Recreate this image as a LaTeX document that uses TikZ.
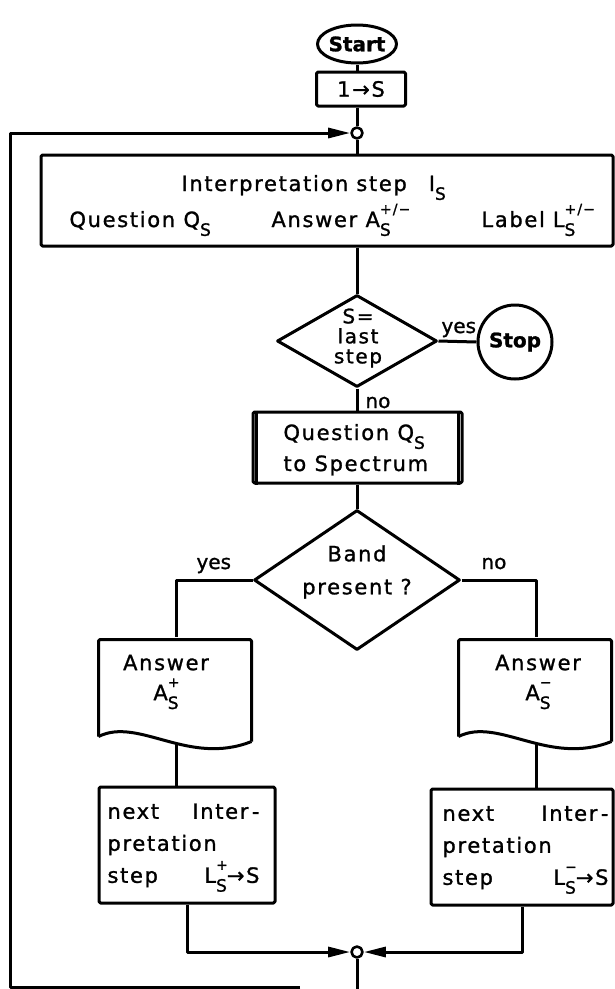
\documentclass[tikz,border=0pt]{standalone}
\usepackage{fontspec}
\setmainfont{DejaVu Sans}[LetterSpace=8,FakeBold=1.2]
\newfontfamily\plainf{DejaVu Sans}[FakeBold=1.2]
\usetikzlibrary{shapes.geometric,arrows.meta,calc}
\newcommand\Ssub{\raisebox{-0.42em}{\fontsize{17}{17}\selectfont S}}
\newcommand\SsubSup[1]{\makebox[0pt][l]{\raisebox{0.62em}{\fontsize{14}{14}\selectfont #1}}\raisebox{-0.42em}{\fontsize{17}{17}\selectfont S}}
\begin{document}
\begin{tikzpicture}[x=1pt,y=-1pt,line width=3pt,line join=round,
  font=\fontsize{21}{25}\selectfont,
  box/.style={draw,rectangle,rounded corners=1.5pt,inner sep=0pt},
  lbl/.style={inner sep=0pt,anchor=base west,font=\fontsize{20}{24}\selectfont\plainf},
  txt/.style={inner sep=0pt,anchor=base west},
  arr/.style={-{Triangle[length=22pt,width=10pt]}},
  junc/.style={circle,draw,fill=white,minimum size=11pt,inner sep=0pt,line width=2.6pt}]
\useasboundingbox (0,0) rectangle (615,989);

% top
\node[ellipse,draw,minimum width=79pt,minimum height=38pt,inner sep=0pt] (start) at (357,44) {\makebox[0pt]{\plainf\fontsize{20}{24}\selectfont\bfseries Start}};
\node[box,minimum width=89pt,minimum height=34pt] (init) at (361,89) {1→S};
\node[junc] (j1) at (357,133) {};

% interpretation box
\node[box,minimum width=572pt,minimum height=91pt] (interp) at (327,200.5) {};
\node[txt] (t1) at (180,191) {Interpretation\hspace{8pt}step\hspace{22pt}I\Ssub};
\node[txt] (t2) at (68,227) {Question Q\Ssub};
\node[txt] (t3) at (270,227) {Answer A\SsubSup{+/−}};
\node[txt] (t4) at (480,227) {Label\hspace{8pt}L\SsubSup{+/−}};

% last step decision
\node[diamond,draw,minimum width=160pt,minimum height=92pt,inner sep=0pt] (last) at (357,341) {};
\node[inner sep=0pt,align=center,font=\fontsize{20}{20}\selectfont] (lastt) at (358,338) {S=\\last\\step};
\node[circle,draw,minimum size=74pt,inner sep=0pt] (stop) at (515,342) {\plainf\fontsize{20}{24}\selectfont\bfseries Stop};

% question box
\node[box,minimum width=209pt,minimum height=71pt] (quest) at (357.5,447.5) {};
\node[inner sep=0pt,anchor=base west] (qt1) at (282,440) {Question Q\Ssub};
\node[inner sep=0pt,anchor=base west] (qt2) at (282,471) {to Spectrum};
\draw ([xshift=5pt]quest.north west) -- ([xshift=5pt]quest.south west);
\draw ([xshift=-5pt]quest.north east) -- ([xshift=-5pt]quest.south east);

% band decision
\node[diamond,draw,minimum width=206pt,minimum height=140pt,inner sep=0pt] (band) at (357,580) {};
\node[inner sep=0pt,align=center,font=\fontsize{21}{33}\selectfont] (bandt) at (357,572) {Band\\present ?};

% answer documents
\node[inner sep=0pt,minimum width=153pt,minimum height=103.4pt] (a1) at (176.5,689.7) {};
\node[inner sep=0pt,minimum width=153pt,minimum height=103.4pt] (a2) at (536.5,689.7) {};
\begin{scope}[shift={(a1.south west)}]
\draw[rounded corners=1.5pt] (0,-6.4) -- (0,-103.4) -- (153,-103.4) -- (153,-1.4);
\draw (153,-1.4) .. controls (90,23.6) and (40,-26.4) .. (0,-6.4);
\end{scope}
\begin{scope}[shift={(a2.south west)}]
\draw[rounded corners=1.5pt] (0,-6.4) -- (0,-103.4) -- (153,-103.4) -- (153,-1.4);
\draw (153,-1.4) .. controls (90,23.6) and (40,-26.4) .. (0,-6.4);
\end{scope}
\node[inner sep=0pt,align=center,font=\fontsize{21}{30}\selectfont] (a1t) at (166,682) {Answer\\A\SsubSup{+}};
\node[inner sep=0pt,align=center,font=\fontsize{21}{30}\selectfont] (a2t) at (538,682) {Answer\\A\SsubSup{−}};

% next boxes
\node[box,minimum width=176pt,minimum height=116pt] (n1) at (187,845) {};
\node[box,minimum width=182pt,minimum height=116pt] (n2) at (522,847) {};
\node[inner sep=0pt,anchor=north west,align=left,font=\fontsize{21}{32}\selectfont] (n1t) at (106,802)
  {\makebox[152pt][l]{next\hfill Inter\,-}\\pretation\\\makebox[152pt][l]{step\hfill L\SsubSup{+}→S}};
\node[inner sep=0pt,anchor=north west,align=left,font=\fontsize{21}{32}\selectfont] (n2t) at (441,804)
  {\makebox[166pt][l]{next\hfill Inter\,-}\\pretation\\\makebox[166pt][l]{step\hfill L\SsubSup{−}→S}};

% junction at bottom
\node[junc] (j2) at (357,952) {};
\coordinate (bot) at (357,989);
\coordinate (lend) at (300,987);
\coordinate (lcorner) at (10,987);

% connectors
\draw (start) -- (start |- init.north);
\draw (j1 |- init.south) -- (j1);
\draw (j1) -- (j1 |- interp.north);
\draw (j1 |- interp.south) -- (last.north);
\draw (last.east) -- (stop.west);
\draw (last.south) -- (last.south |- quest.north);
\draw (band.north |- quest.south) -- (band.north);
\draw (band.west) -| (a1.north);
\draw (band.east) -| (a2.north);
\draw (a1.south) -- (a1.south |- n1.north);
\draw (a2.south) -- (a2.south |- n2.north);
\draw[arr] (n1.south) |- (j2.west);
\draw[arr] (n2.south) |- (j2.east);
\draw (j2.south) -- (bot);
\draw[arr] (lend) -- (lcorner) |- (j1.west);

% labels
\node[lbl] (yes1) at (440,333) {yes};
\node[lbl] (no1) at (364,408) {no};
\node[lbl] (yes2) at (195,569) {yes};
\node[lbl] (no2) at (480,569) {no};
\end{tikzpicture}
\end{document}
